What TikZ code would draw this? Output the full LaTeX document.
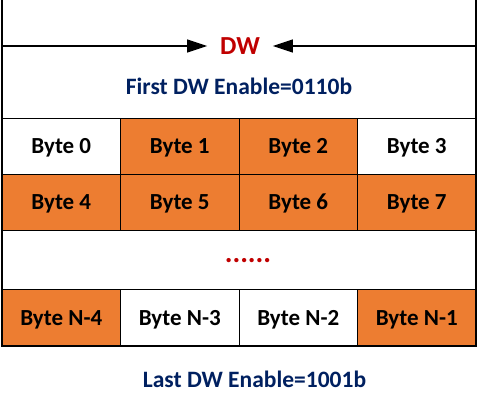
\documentclass[tikz,border=0pt]{standalone}
\usepackage{fontspec}
\setmainfont{Carlito}
\usepackage{xcolor}
\usetikzlibrary{arrows.meta}
\definecolor{cellorange}{HTML}{ED7D31}
\definecolor{dwred}{HTML}{C00000}
\definecolor{enblue}{HTML}{002060}

\begin{document}
\begin{tikzpicture}[
  x=1pt, y=-1pt,
  every node/.style={inner sep=0pt, outer sep=0pt},
  cell/.style={draw, line width=0.9pt, minimum width=118.5pt, minimum height=56pt,
    font=\fontsize{23}{27}\selectfont\bfseries, text height=15pt, text depth=0pt},
  hot/.style={cell, fill=cellorange},
  enable/.style={anchor=base, text=enblue, font=\fontsize{23.5}{28}\selectfont\bfseries},
  frame/.style={line width=1.6pt}
]
  \useasboundingbox (0,0) rectangle (479,407);

  % first row
  \node[cell] (b0) at (61.25,146) {Byte 0};
  \node[hot]  (b1) at (179.75,146) {Byte 1};
  \node[hot]  (b2) at (298.25,146) {Byte 2};
  \node[cell] (b3) at (416.75,146) {Byte 3};
  % second row
  \node[hot] (b4) at (61.25,202) {Byte 4};
  \node[hot] (b5) at (179.75,202) {Byte 5};
  \node[hot] (b6) at (298.25,202) {Byte 6};
  \node[hot] (b7) at (416.75,202) {Byte 7};
  % skipped rows
  \node[draw, line width=0.9pt, minimum width=474pt, minimum height=59pt] (gap) at (239,259.5) {};
  \node[anchor=base, text=dwred, font=\fontsize{29}{33}\selectfont\bfseries] (dots) at (248,262.5) {......};
  % last row
  \node[hot, minimum height=57pt]  (n4) at (61.25,317.5) {Byte N-4};
  \node[cell, minimum height=57pt] (n3) at (179.75,317.5) {Byte N-3};
  \node[cell, minimum height=57pt] (n2) at (298.25,317.5) {Byte N-2};
  \node[hot, minimum height=57pt]  (n1) at (416.75,317.5) {Byte N-1};

  % outer frame
  \coordinate (tl) at (2,0);
  \coordinate (tr) at (476,0);
  \draw[frame] (tl) -- (n4.south west) -- (n1.south east) -- (tr);

  % DW width
  \node[text=dwred, font=\fontsize{26}{30}\selectfont\bfseries, inner xsep=13pt] (dw) at (240,46) {DW};
  \coordinate (al) at (2,46);
  \coordinate (ar) at (476,46);
  \draw[line width=1.3pt, -{Triangle[length=20pt,width=13pt]}] (al) -- (dw.west);
  \draw[line width=1.3pt, -{Triangle[length=20pt,width=13pt]}] (ar) -- (dw.east);

  \node[enable] (first) at (239,94.5) {First DW Enable=0110b};
  \node[enable] (last) at (254.5,387) {Last DW Enable=1001b};
\end{tikzpicture}
\end{document}
